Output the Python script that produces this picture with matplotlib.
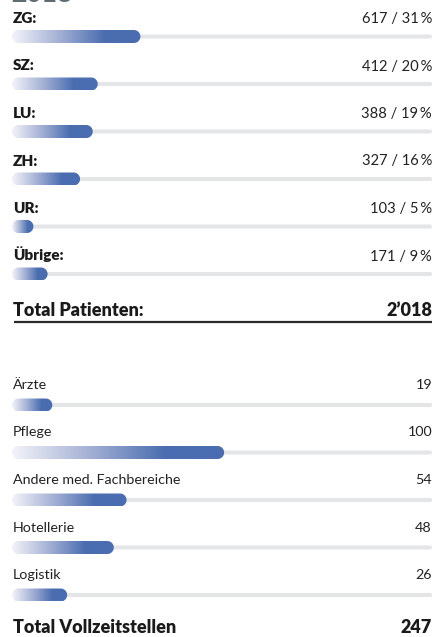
import matplotlib
matplotlib.use('Agg')
import numpy as np
import matplotlib.pyplot as plt
from matplotlib.patches import Polygon
from matplotlib.colors import LinearSegmentedColormap

# data
regions = ['ZG:', 'SZ:', 'LU:', 'ZH:', 'UR:', 'Übrige:']
patients = [617, 412, 388, 327, 103, 171]
shares = [31, 20, 19, 16, 5, 9]
total_patients = "2\u2019018"

staff_groups = ['Ärzte', 'Pflege', 'Andere med. Fachbereiche', 'Hotellerie', 'Logistik']
staff_fte = [19, 100, 54, 48, 26]
total_staff = "247"

# styling
W, H = 434, 637
blue = '#4a6db0'
track_col = '#e4e5e7'
dark = '#1a1a1a'
grad_cmap = LinearSegmentedColormap.from_list(
    'grad', [(0.0, '#f3f3f9'), (0.35, '#a7b3d6'), (0.72, blue), (1.0, blue)])

plt.rcParams['font.family'] = ['Lato', 'DejaVu Sans']

fig = plt.figure(figsize=(W / 100, H / 100), dpi=100)
ax = fig.add_axes([0, 0, 1, 1])
ax.set_xlim(0, W)
ax.set_ylim(H, 0)
ax.axis('off')

x0, x1 = 12, 432
bar_h = 13
track_h = 4


def bar_axes():
    # axes with value units along x, pixel units along y
    bax = fig.add_axes([x0 / W, 0, (x1 - x0) / W, 1])
    bax.axis('off')
    return bax


def capsule(value, yc, h, sx):
    # pill outline: x in data units, y in pixels
    r = h / 2
    t = np.linspace(-np.pi / 2, np.pi / 2, 24)
    right = np.column_stack([value - r * sx + r * sx * np.cos(t), yc + r * np.sin(t)])
    left = np.column_stack([r * sx - r * sx * np.cos(t), yc - r * np.sin(t)])
    return np.vstack([right, left])


def draw_bar(bax, vmax, yc, value):
    sx = vmax / (x1 - x0)
    bax.add_patch(Polygon(capsule(vmax, yc, track_h, sx), closed=True,
                          fc=track_col, ec='none', zorder=1))
    patch = Polygon(capsule(value, yc, bar_h, sx), closed=True, fc='none', ec='none')
    bax.add_patch(patch)
    grad = np.tile(np.linspace(0, 1, 256), (4, 1))
    im = bax.imshow(grad, extent=(0, value, yc + bar_h / 2, yc - bar_h / 2),
                    aspect='auto', cmap=grad_cmap, interpolation='bilinear', zorder=3)
    im.set_clip_path(patch)


# faded year heading, cut off at the top
ax.text(11, 1.5, '2018', fontsize=19, fontweight='heavy', color='#5f6b73',
        va='baseline', ha='left')

# section 1: patients by canton
ax1 = bar_axes()
for i, (lab, v, p) in enumerate(zip(regions, patients, shares)):
    yc = 36.5 + i * 47.5
    draw_bar(ax1, 2018, yc, v)
    ax.text(13, yc - 13.5, lab, fontsize=11, fontweight='heavy', color=dark,
            va='baseline', ha='left')
    ax.text(x1, yc - 13.5, f'{v} / {p}\u2009%', fontsize=10.6, color='#222222',
            va='baseline', ha='right')
ax1.set_xlim(0, 2018)
ax1.set_ylim(H, 0)

ax.text(13, 316, 'Total Patienten:', fontsize=13, fontweight='heavy', color=dark,
        va='baseline', ha='left')
ax.text(x1, 316, total_patients, fontsize=13, fontweight='heavy', color=dark,
        va='baseline', ha='right')
ax.plot([14, x1], [321.5, 321.5], color='#2b2b2b', lw=1.6, solid_capstyle='butt')

# section 2: full-time staff
ax2 = bar_axes()
for i, (lab, v) in enumerate(zip(staff_groups, staff_fte)):
    yc = 405 + i * 47.5
    draw_bar(ax2, 198, yc, v)
    ax.text(13, yc - 16, lab, fontsize=10.3, color='#222222',
            va='baseline', ha='left')
    ax.text(x1, yc - 16, str(v), fontsize=10.3, color='#222222',
            va='baseline', ha='right')
ax2.set_xlim(0, 198)
ax2.set_ylim(H, 0)

ax.text(13, 633, 'Total Vollzeitstellen', fontsize=13, fontweight='heavy', color=dark,
        va='baseline', ha='left')
ax.text(x1, 633, total_staff, fontsize=13, fontweight='heavy', color=dark,
        va='baseline', ha='right')

fig.savefig('out.png', dpi=100)
